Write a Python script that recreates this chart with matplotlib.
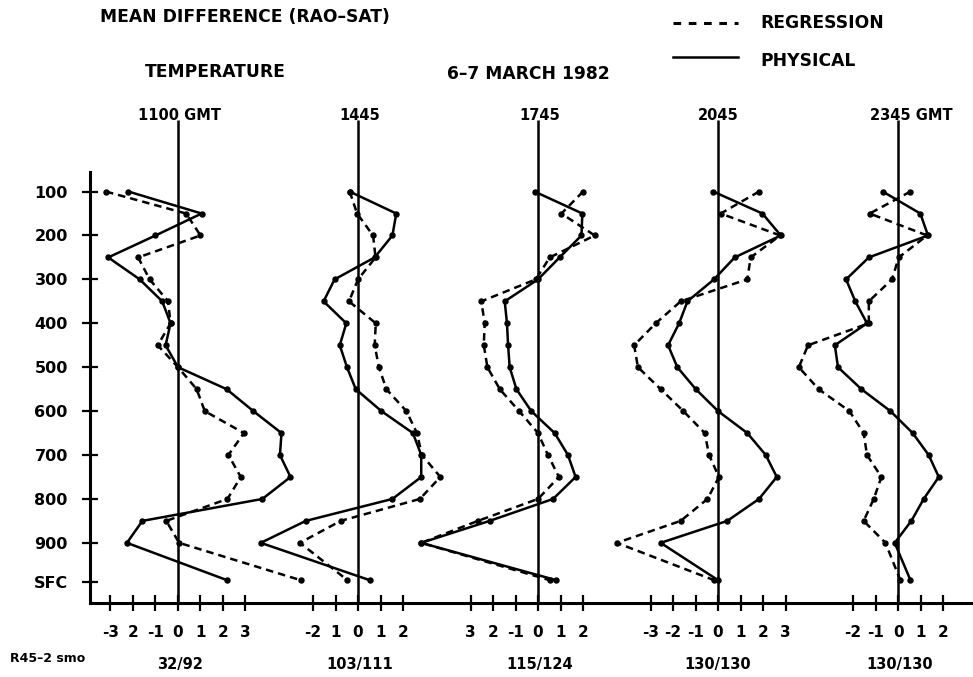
import numpy as np
import matplotlib.pyplot as plt

plt.rcParams['font.family'] = ['DejaVu Sans']
plt.rcParams['axes.unicode_minus'] = False

# pressure levels (mb), SFC plotted just below 900
LEVELS = [100, 150, 200, 250, 300, 350, 400, 450, 500, 550, 600, 650, 700, 750, 800, 850, 900, 985]
LEVEL_TICKS = [100, 200, 300, 400, 500, 600, 700, 800, 900, 990]
LEVEL_LABELS = ['100', '200', '300', '400', '500', '600', '700', '800', '900', 'SFC']

TIMES = ['1100 GMT', '1445', '1745', '2045', '2345 GMT']
COUNTS = ['32/92', '103/111', '115/124', '130/130', '130/130']

# mean difference RAO-SAT (deg C), one list per time
phys_1100 = [-2.2, 1.05, -1.0, -3.1, -1.7, -0.7, -0.33, -0.55, 0.0, 2.16, 3.35, 4.6, 4.53, 5.0, 3.75, -1.58, -2.27, 2.18]
reg_1100 = [-3.2, 0.36, 1.0, -1.77, -1.26, -0.44, -0.33, -0.9, 0.0, 0.83, 1.19, 2.93, 2.24, 2.79, 2.2, -0.52, 0.05, 5.45]
phys_1445 = [-0.37, 1.7, 1.53, 0.74, -1.04, -1.53, -0.52, -0.81, -0.49, -0.1, 1.04, 2.44, 2.81, 2.81, 1.53, -2.32, -4.32, 0.52]
reg_1445 = [-0.37, -0.04, 0.67, 0.78, 0.0, -0.4, 0.79, 0.74, 0.93, 1.26, 2.15, 2.62, 2.84, 3.66, 2.75, -0.77, -2.58, -0.47]
phys_1745 = [-0.15, 1.97, 1.93, 0.96, 0.0, -1.48, -1.38, -1.33, -1.26, -0.96, -0.3, 0.74, 1.33, 1.67, 0.67, -2.15, -5.19, 0.81]
reg_1745 = [2.0, 1.04, 2.52, 0.52, -0.1, -2.52, -2.37, -2.41, -2.25, -1.7, -0.84, 0.0, 0.44, 0.93, 0.0, -2.67, -5.19, 0.52]
phys_2045 = [-0.21, 1.97, 2.79, 0.74, -0.18, -1.36, -1.73, -2.22, -1.81, -0.99, 0.0, 1.3, 2.12, 2.61, 1.82, 0.41, -2.55, 0.0]
reg_2045 = [1.82, 0.12, 2.76, 1.45, 1.3, -1.66, -2.77, -3.73, -3.56, -2.55, -1.54, -0.59, -0.4, 0.04, -0.47, -1.66, -4.5, -0.18]
phys_2345 = [-0.68, 0.99, 1.33, -1.3, -2.31, -1.9, -1.38, -2.81, -2.67, -1.63, -0.34, 0.65, 1.36, 1.81, 1.14, 0.59, -0.15, 0.55]
reg_2345 = [0.55, -1.26, 1.29, 0.03, -0.27, -1.3, -1.3, -4.0, -4.41, -3.53, -2.16, -1.53, -1.38, -0.74, -1.08, -1.53, -0.56, 0.1]

PHYSICAL = [phys_1100, phys_1445, phys_1745, phys_2045, phys_2345]
REGRESSION = [reg_1100, reg_1445, reg_1745, reg_2045, reg_2345]

# bottom scale of each panel (values and labels as printed)
TICK_VALUES = [[-3, -2, -1, 0, 1, 2, 3], [-2, -1, 0, 1, 2], [-3, -2, -1, 0, 1, 2],
               [-3, -2, -1, 0, 1, 2, 3], [-2, -1, 0, 1, 2]]
TICK_LABELS = [['-3', '2', '-1', '0', '1', '2', '3'], ['-2', '1', '0', '1', '2'],
               ['3', '2', '-1', '0', '1', '2'], ['-3', '-2', '-1', '0', '1', '2', '3'],
               ['-2', '-1', '0', '1', '2']]

W, H = 973, 677
PANEL_STEP = 8  # degrees between panel zero lines


def fx(x):
    return x / W


def fy(y):
    return 1 - y / H


fig = plt.figure(figsize=(W / 100, H / 100), dpi=100)
ax = fig.add_axes([fx(90), fy(603), fx(973) - fx(90), fy(120) - fy(603)])
ax.set_xlim(-3.91, 35.33)
ax.set_ylim(1037, -63)

offsets = [i * PANEL_STEP for i in range(len(TIMES))]

for off in offsets:
    ax.plot([off, off], [-63, 1037], color='black', lw=1.8, solid_capstyle='butt')

for off, phys, reg in zip(offsets, PHYSICAL, REGRESSION):
    ax.plot(off + np.array(phys), LEVELS, color='black', lw=1.8, marker='o', ms=3.6)
    ax.plot(off + np.array(reg), LEVELS, color='black', lw=1.8, ls=(0, (3, 2)),
            marker='o', ms=3.6)

# axes styling
for s in ['top', 'right']:
    ax.spines[s].set_visible(False)
ax.spines['left'].set_linewidth(2.2)
ax.spines['bottom'].set_linewidth(2.2)
ax.spines['left'].set_bounds(1037, 55)

ax.set_yticks(LEVEL_TICKS)
ax.set_yticklabels(LEVEL_LABELS, fontsize=11.5, fontweight='bold')
ax.tick_params(axis='y', direction='inout', length=12, width=1.6, pad=10)

xt, xl = [], []
for off, vals, labs in zip(offsets, TICK_VALUES, TICK_LABELS):
    xt += [off + v for v in vals]
    xl += labs
ax.set_xticks(xt)
ax.set_xticklabels(xl, fontsize=11, fontweight='bold')
ax.tick_params(axis='x', direction='inout', length=12, width=1.6, pad=10)

# header and legend
big = dict(fontweight='bold', fontsize=12.3)
bold = dict(fontweight='bold', fontsize=10.5)
fig.text(fx(100), fy(17), 'MEAN DIFFERENCE (RAO\u2013SAT)', va='center', ha='left', **big)
fig.text(fx(145), fy(72), 'TEMPERATURE', va='center', ha='left', **big)
fig.text(fx(447), fy(74), '6\u20137 MARCH 1982', va='center', ha='left', **big)
fig.text(fx(760), fy(23), 'REGRESSION', va='center', ha='left', **big)
fig.text(fx(760), fy(61), 'PHYSICAL', va='center', ha='left', **big)
fig.add_artist(plt.Line2D([fx(673), fx(738)], [fy(23), fy(23)], color='black', lw=2.2,
                          ls=(0, (2.5, 2.5))))
fig.add_artist(plt.Line2D([fx(673), fx(738)], [fy(57), fy(57)], color='black', lw=1.8))

time_x = [138, 360, 540, 718, 870]
for t, x in zip(TIMES, time_x):
    ha = 'left' if 'GMT' in t else 'center'
    fig.text(fx(x), fy(116), t, va='center', ha=ha, **bold)

fig.text(fx(10), fy(658), 'R45\u20132 smo', va='center', ha='left', fontweight='bold', fontsize=9)
count_x = [180, 360, 540, 718, 900]
for c, x in zip(COUNTS, count_x):
    fig.text(fx(x), fy(664), c, va='center', ha='center', **bold)

fig.savefig('out.png', dpi=100)
